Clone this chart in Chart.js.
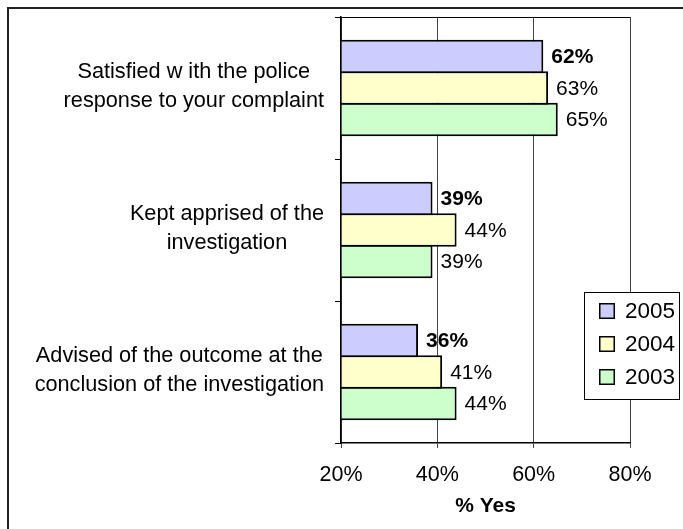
<!DOCTYPE html>
<html>
<head>
<meta charset="utf-8">
<script src="https://cdn.jsdelivr.net/npm/chart.js@4/dist/chart.umd.min.js"></script>
<style>
  html, body { margin: 0; padding: 0; background: #fff; }
  canvas { display: block; }
</style>
</head>
<body>
<canvas id="c" width="683" height="529"></canvas>
<script>
const categories = [
  ["Satisfied w ith the police", "response to your complaint"],
  ["Kept apprised of the", "investigation"],
  ["Advised of the outcome at the", "conclusion of the investigation"]
];
const seriesNames = ["2005", "2004", "2003"];
const values2005 = [62, 39, 36];
const values2004 = [63, 44, 41];
const values2003 = [65, 39, 44];
const xTicks = [20, 40, 60, 80];
const axisTitle = "% Yes";

const FONT = "'Liberation Sans', Arial, sans-serif";
const colors = ["#CCCCFF", "#FFFFCC", "#CCFFCC"];

const decorPlugin = {
  id: 'decor',
  beforeDraw(chart) {
    const ctx = chart.ctx;
    ctx.save();
    ctx.fillStyle = '#fff';
    ctx.fillRect(0, 0, chart.width, chart.height);
    ctx.strokeStyle = '#222';
    ctx.lineWidth = 2;
    ctx.beginPath();
    ctx.moveTo(8, chart.height + 5);
    ctx.lineTo(8, 8);
    ctx.lineTo(chart.width + 5, 8);
    ctx.stroke();
    ctx.restore();
  },
  afterDatasetsDraw(chart) {
    const ctx = chart.ctx;
    const a = chart.chartArea;
    ctx.save();
    ctx.strokeStyle = '#000';
    ctx.lineWidth = 1;
    ctx.beginPath();
    ctx.moveTo(a.left, a.top + 0.5);
    ctx.lineTo(a.right, a.top + 0.5);
    ctx.stroke();
    ctx.textBaseline = 'middle';
    ctx.textAlign = 'left';
    ctx.fillStyle = '#000';
    chart.data.datasets.forEach((ds, di) => {
      const meta = chart.getDatasetMeta(di);
      ctx.font = (di === 0 ? 'bold ' : '') + '21px ' + FONT;
      meta.data.forEach((el, i) => {
        ctx.fillText(ds.data[i] + '%', el.x + 8, el.y + 1);
      });
    });
    const ys = chart.scales.y;
    ctx.font = '21.7px ' + FONT;
    ctx.textAlign = 'center';
    ctx.textBaseline = 'alphabetic';
    categories.forEach((lines, i) => {
      const y = ys.getPixelForValue(i);
      const w = Math.max(...lines.map(l => ctx.measureText(l).width));
      const cx = 324 - w / 2;
      ctx.fillText(lines[0], cx, y - 10.5);
      ctx.fillText(lines[1], cx, y + 19);
    });
    ctx.restore();
  },
  afterDraw(chart) {
    const ctx = chart.ctx;
    ctx.save();
    const lx = 584.5, ly = 292.5, lw = 95, lh = 107;
    ctx.fillStyle = '#fff';
    ctx.fillRect(lx, ly, lw, lh);
    ctx.strokeStyle = '#000';
    ctx.lineWidth = 1;
    ctx.strokeRect(lx, ly, lw, lh);
    const rows = [311, 344, 377];
    ctx.font = '22.5px ' + FONT;
    ctx.textBaseline = 'middle';
    ctx.textAlign = 'left';
    chart.data.datasets.forEach((ds, i) => {
      const cy = rows[i];
      ctx.fillStyle = ds.backgroundColor;
      ctx.fillRect(599, cy - 8, 16, 16);
      ctx.lineWidth = 1.5;
      ctx.strokeStyle = '#000';
      ctx.strokeRect(599.75, cy - 7.25, 14.5, 14.5);
      ctx.fillStyle = '#000';
      ctx.fillText(ds.label, 625, cy + 1);
    });
    ctx.restore();
  }
};

const datasets = [values2005, values2004, values2003].map((vals, i) => ({
  label: seriesNames[i],
  data: vals,
  backgroundColor: colors[i],
  borderColor: '#000',
  borderWidth: 2,
  borderSkipped: 'start',
  base: xTicks[0],
  categoryPercentage: 0.665,
  barPercentage: 1.063
}));

new Chart(document.getElementById('c'), {
  type: 'bar',
  data: { labels: categories, datasets },
  plugins: [decorPlugin],
  options: {
    indexAxis: 'y',
    responsive: false,
    animation: false,
    layout: { padding: { top: 17, right: 53, left: 0, bottom: 0 } },
    plugins: { legend: { display: false }, tooltip: { enabled: false } },
    scales: {
      x: {
        min: xTicks[0],
        max: xTicks[xTicks.length - 1],
        afterBuildTicks: s => { s.ticks = xTicks.map(v => ({ value: v })); },
        afterFit: s => { s.height = 86; },
        ticks: {
          callback: v => v + '%',
          color: '#000',
          padding: 14,
          font: { family: FONT, size: 21.5 }
        },
        grid: { color: '#444', lineWidth: 1, tickLength: 5, drawTicks: true },
        border: { color: '#000', width: 1.5 },
        title: {
          display: true,
          text: axisTitle,
          color: '#000',
          padding: { top: 0, bottom: 10 },
          font: { family: FONT, size: 21, weight: 'bold' }
        }
      },
      y: {
        afterFit: s => { s.width = 341; },
        ticks: { display: false },
        grid: { drawOnChartArea: false, drawTicks: true, tickLength: 6, color: '#000', offset: true },
        border: { color: '#000', width: 1.5 }
      }
    }
  }
});
</script>
</body>
</html>
